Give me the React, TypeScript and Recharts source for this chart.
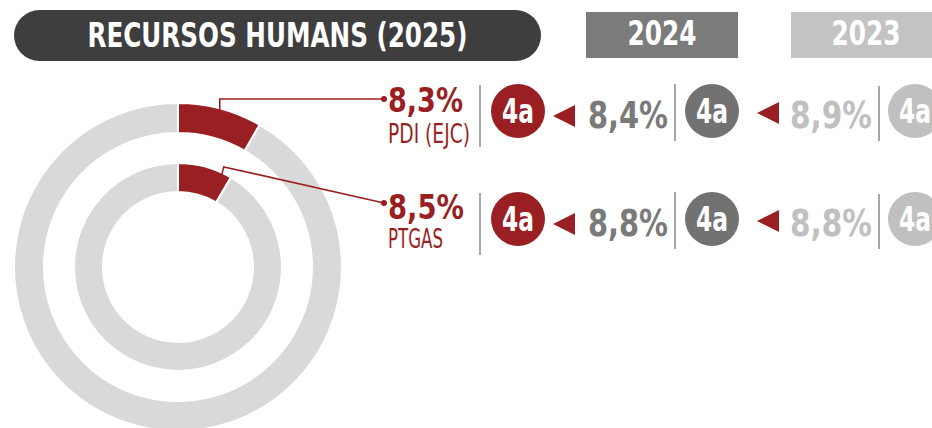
import React from 'react';
import { PieChart, Pie, Cell } from 'recharts';

// ---- data ----
const categories = ['PDI (EJC)', 'PTGAS'];
const values2025 = [8.3, 8.5];
const values2024 = [8.4, 8.8];
const values2023 = [8.9, 8.8];
const ranks2025 = ['4a', '4a'];
const ranks2024 = ['4a', '4a'];
const ranks2023 = ['4a', '4a'];
const headerTitle = 'RECURSOS HUMANS (2025)';
const yearLabels = ['2024', '2023'];

// ---- styles ----
const RED = '#9a1f22';
const RING_GREY = '#d9d9d9';
const DARK = '#3e3e3e';
const MID = '#7a7a7a';
const LIGHT = '#c0c0c0';
const FONT = "'DejaVu Sans Condensed', 'Liberation Sans Narrow', 'DejaVu Sans', sans-serif";
const RAD = Math.PI / 180;

const fmt = (v: number) => v.toFixed(1).replace('.', ',') + '%';

const ringData = categories.map((c, i) => [
  { name: c, value: values2025[i] },
  { name: 'Resta', value: 100 - values2025[i] },
]);
const ringColors = [RED, RING_GREY];

const rowCenter = [111, 219];
const leaderEndY = [99, 203];
const valueBase = [112, 219];
const subBase = [143, 248];
const valueWidth = [75, 76];
const subWidth = [82, 55];

const Badge = ({ x, y, fill, label }: any) => (
  <g>
    <circle cx={x} cy={y} r={27} fill={fill} />
    <text x={x} y={y + 12} textAnchor="middle" fill="#fff" fontFamily={FONT} fontWeight={700}
      fontSize={33} textLength={32} lengthAdjust="spacingAndGlyphs">{label}</text>
  </g>
);

const Arrow = ({ x, y }: any) => (
  <polygon points={`${x},${y} ${x + 22},${y - 11} ${x + 22},${y + 11}`} fill={RED} />
);

const makeLabel = (row: number, frac: number) => (props: any) => {
  if (props.index !== 0) return null;
  const { cx, cy, outerRadius } = props;
  const sa = props.startAngle ?? 90;
  const ea = props.endAngle ?? (props.midAngle != null ? 2 * props.midAngle - sa : 60);
  const ang = sa + (ea - sa) * frac;
  const r = outerRadius - 2;
  const sx = cx + r * Math.cos(-ang * RAD);
  const sy = cy + r * Math.sin(-ang * RAD);
  const ex = 384;
  const ey = leaderEndY[row];
  const path = row === 0
    ? `M${sx},${sy} V${ey} H${ex}`
    : `M${sx},${sy} L${sx + 2},${sy - 8} L${ex},${ey}`;
  const c = rowCenter[row];
  return (
    <g>
      <path d={path} fill="none" stroke={RED} strokeWidth={1.6} />
      <circle cx={ex} cy={ey} r={3} fill={RED} />
      <text x={388} y={valueBase[row]} fill={RED} fontFamily={FONT} fontWeight={700} fontSize={34}
        textLength={valueWidth[row]} lengthAdjust="spacingAndGlyphs">{fmt(values2025[row])}</text>
      <text x={388} y={subBase[row]} fill={RED} fontFamily={FONT} fontWeight={400} fontSize={27}
        textLength={subWidth[row]} lengthAdjust="spacingAndGlyphs">{categories[row]}</text>
      <line x1={480} x2={480} y1={c - 26} y2={c + 36} stroke="#8a8a8a" strokeWidth={1.5} />
      <Badge x={518} y={c} fill={RED} label={ranks2025[row]} />
      <Arrow x={553} y={c + 5} />
      <text x={588} y={c + 17} fill={MID} fontFamily={FONT} fontWeight={700} fontSize={37}
        textLength={80} lengthAdjust="spacingAndGlyphs">{fmt(values2024[row])}</text>
      <line x1={675} x2={675} y1={c - 27} y2={c + 30} stroke="#8a8a8a" strokeWidth={1.5} />
      <Badge x={712} y={c} fill="#727272" label={ranks2024[row]} />
      <Arrow x={757} y={c + 2} />
      <text x={790} y={c + 17} fill={LIGHT} fontFamily={FONT} fontWeight={700} fontSize={37}
        textLength={82} lengthAdjust="spacingAndGlyphs">{fmt(values2023[row])}</text>
      <line x1={879} x2={879} y1={c - 25} y2={c + 30} stroke="#8a8a8a" strokeWidth={1.5} />
      <Badge x={915} y={c} fill={LIGHT} label={ranks2023[row]} />
    </g>
  );
};

const rings = [
  { inner: 134, outer: 164, frac: 0.5 },
  { inner: 75, outer: 104, frac: 0.83 },
];

export default function App() {
  return (
    <div style={{ position: 'absolute', left: 0, top: 0, width: 932, height: 428, background: '#fff' }}>
      <PieChart width={932} height={428} margin={{ top: 0, right: 0, bottom: 0, left: 0 }}>
        {ringData.map((d, i) => (
          <Pie
            key={categories[i]}
            data={d}
            dataKey="value"
            nameKey="name"
            cx={178}
            cy={267}
            innerRadius={rings[i].inner}
            outerRadius={rings[i].outer}
            startAngle={90}
            endAngle={-270}
            stroke="#fff"
            strokeWidth={2}
            labelLine={false}
            label={makeLabel(i, rings[i].frac)}
            isAnimationActive={false}
          >
            {d.map((e, j) => (
              <Cell key={e.name} fill={ringColors[j]} />
            ))}
          </Pie>
        ))}
      </PieChart>
      <svg width={932} height={70} style={{ position: 'absolute', left: 0, top: 0, pointerEvents: 'none' }}>
        <rect x={14} y={10} width={527} height={51} rx={25.5} fill={DARK} />
        <text x={277.5} y={47} textAnchor="middle" fill="#fff" fontFamily={FONT} fontWeight={700}
          fontSize={34} textLength={380} lengthAdjust="spacingAndGlyphs">{headerTitle}</text>
        <rect x={586} y={12} width={152} height={46} fill="#7b7b7b" />
        <text x={662} y={45} textAnchor="middle" fill="#fff" fontFamily={FONT} fontWeight={700}
          fontSize={34} textLength={69} lengthAdjust="spacingAndGlyphs">{yearLabels[0]}</text>
        <rect x={791} y={12} width={152} height={46} fill="#c3c3c3" />
        <text x={866} y={45} textAnchor="middle" fill="#fff" fontFamily={FONT} fontWeight={700}
          fontSize={34} textLength={69} lengthAdjust="spacingAndGlyphs">{yearLabels[1]}</text>
      </svg>
    </div>
  );
}
